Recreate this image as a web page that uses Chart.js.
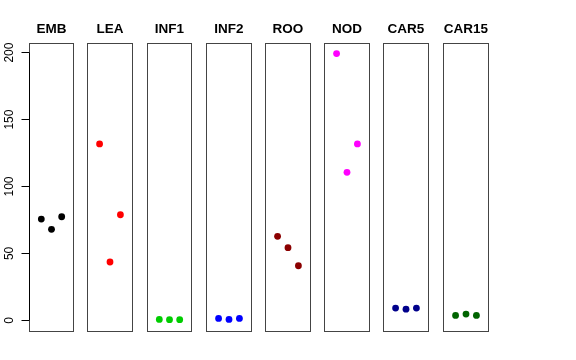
<!DOCTYPE html>
<html>
<head>
<meta charset="utf-8">
<script src="https://cdn.jsdelivr.net/npm/chart.js@4/dist/chart.umd.min.js"></script>
<style>
  html, body { margin: 0; padding: 0; background: #ffffff; }
  #wrap { position: relative; width: 576px; height: 360px; background: #ffffff; overflow: hidden; }
  #wrap canvas { position: absolute; top: 0; }
</style>
</head>
<body>
<div id="wrap"></div>
<script>
// ---- data ----
const categories = ['EMB', 'LEA', 'INF1', 'INF2', 'ROO', 'NOD', 'CAR5', 'CAR15'];
const replicates = [1, 2, 3];
const embValues  = [75.7, 68.0, 77.4];
const leaValues  = [131.8, 43.6, 78.9];
const inf1Values = [0.7, 0.5, 0.5];
const inf2Values = [1.5, 0.7, 1.5];
const rooValues  = [62.8, 54.3, 40.8];
const nodValues  = [199.3, 110.6, 131.8];
const car5Values = [9.2, 8.4, 9.2];
const car15Values = [3.7, 4.7, 3.7];
const yTickValues = [0, 50, 100, 150, 200];

const seriesValues = [embValues, leaValues, inf1Values, inf2Values, rooValues, nodValues, car5Values, car15Values];
const seriesColors = ['#000000', '#FF0000', '#00CD00', '#0000FF', '#8B0000', '#FF00FF', '#00008B', '#006400'];

// ---- layout (panel box pixel columns) ----
const boxLeft  = [29, 87, 147, 206, 265, 324, 383, 443];
const boxRight = [73, 132, 191, 251, 310, 369, 428, 488];
const boxTop = 43, boxBottom = 331;
const H = 360;
const FONT = "'Liberation Sans', Arial, Helvetica, sans-serif";

const boxPlugin = {
  id: 'panelBox',
  afterDatasetsDraw(chart, args, opts) {
    const a = chart.chartArea;
    const ctx = chart.ctx;
    ctx.save();
    ctx.strokeStyle = '#444444';
    ctx.lineWidth = 1;
    ctx.strokeRect(a.left, a.top, a.right - a.left, a.bottom - a.top);
    if (opts && opts.axisLine) {
      const ys = chart.scales.y;
      ctx.strokeStyle = '#000000';
      ctx.beginPath();
      ctx.moveTo(a.left, ys.getPixelForValue(yTickValues[0]));
      ctx.lineTo(a.left, ys.getPixelForValue(yTickValues[yTickValues.length - 1]));
      ctx.stroke();
    }
    ctx.restore();
  }
};

const wrap = document.getElementById('wrap');

categories.forEach((cat, i) => {
  const first = i === 0;
  const canvasLeft = first ? 0 : boxLeft[i] - 5;
  const areaLeft = boxLeft[i] + 0.5;
  const areaRight = boxRight[i] + 0.5;
  const width = first ? Math.ceil(areaRight + 6) : (boxRight[i] - boxLeft[i]) + 11;
  const canvas = document.createElement('canvas');
  canvas.width = width;
  canvas.height = H;
  canvas.style.left = canvasLeft + 'px';
  canvas.style.width = width + 'px';
  canvas.style.height = H + 'px';
  wrap.appendChild(canvas);

  const padLeft = first ? 0 : areaLeft - canvasLeft;
  const padRight = width - (areaRight - canvasLeft);
  const areaTop = boxTop + 0.5;
  const areaBottom = boxBottom + 0.5;
  const titleSize = 13.5;
  const titleLine = titleSize * 1.2;
  const titleCenter = 29.5;
  const titlePadTop = titleCenter - titleLine / 2;
  const titlePadBottom = areaTop - titlePadTop - titleLine;

  new Chart(canvas, {
    type: 'scatter',
    data: {
      datasets: [{
        label: cat,
        data: replicates.map((r, k) => ({ x: r, y: seriesValues[i][k] })),
        backgroundColor: seriesColors[i],
        borderColor: seriesColors[i],
        borderWidth: 0,
        pointRadius: 3.4,
        pointHoverRadius: 3.4
      }]
    },
    options: {
      responsive: false,
      animation: false,
      devicePixelRatio: 1,
      events: [],
      layout: { padding: { left: padLeft, right: padRight, top: 0, bottom: H - areaBottom } },
      plugins: {
        legend: { display: false },
        tooltip: { enabled: false },
        title: {
          display: true,
          text: cat,
          fullSize: false,
          color: '#000000',
          font: { family: FONT, size: titleSize, weight: 'bold' },
          padding: { top: titlePadTop, bottom: titlePadBottom }
        },
        panelBox: { axisLine: first }
      },
      scales: {
        x: {
          type: 'linear',
          display: false,
          min: -0.16,
          max: 4.16
        },
        y: {
          type: 'linear',
          display: first,
          min: -8.3,
          max: 206.8,
          afterBuildTicks: (scale) => { scale.ticks = yTickValues.map(v => ({ value: v })); },
          afterFit: (scale) => { if (first) scale.width = areaLeft; },
          grid: { drawOnChartArea: false, drawTicks: true, tickLength: 8, color: '#000000', lineWidth: 1 },
          border: { display: false },
          ticks: {
            color: '#000000',
            font: { family: FONT, size: 12 },
            minRotation: 90,
            maxRotation: 90,
            crossAlign: 'center',
            padding: 2.0,
            autoSkip: false
          }
        }
      }
    },
    plugins: [boxPlugin]
  });
});
</script>
</body>
</html>
